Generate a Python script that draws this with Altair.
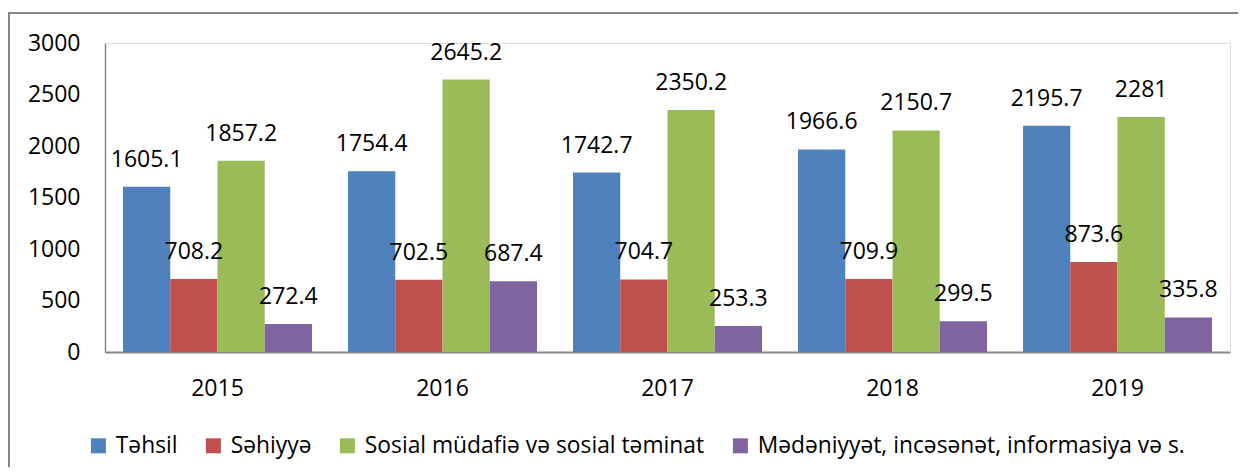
import altair as alt
import pandas as pd

years = ["2015", "2016", "2017", "2018", "2019"]
series = ["Təhsil", "Səhiyyə", "Sosial müdafiə və sosial təminat",
          "Mədəniyyət, incəsənət, informasiya və s."]
colors = ["#4F81BD", "#C0504D", "#9BBB59", "#8064A2"]
tehsil = [1605.1, 1754.4, 1742.7, 1966.6, 2195.7]
sehiyye = [708.2, 702.5, 704.7, 709.9, 873.6]
sosial = [1857.2, 2645.2, 2350.2, 2150.7, 2281]
medeniyyet = [272.4, 687.4, 253.3, 299.5, 335.8]
y_ticks = [0, 500, 1000, 1500, 2000, 2500, 3000]

rows = []
for s, vals in zip(series, [tehsil, sehiyye, sosial, medeniyyet]):
    for yr, v in zip(years, vals):
        rows.append({"year": yr, "series": s, "value": v, "label": f"{v:g}"})
df = pd.DataFrame(rows)

FONT = "Open Sans"
W, H = 1125, 309

x = alt.X("year:N", sort=years, title=None,
          scale=alt.Scale(paddingInner=0.16, paddingOuter=0.08),
          axis=alt.Axis(labelAngle=0, ticks=False, tickSize=0, labelPadding=25,
                        labelFontSize=23, labelFont=FONT, labelColor="#000",
                        domainColor="#868686", domainWidth=2))
xo = alt.XOffset("series:N", sort=series)
y = alt.Y("value:Q", title=None,
          scale=alt.Scale(domain=[0, 3000], nice=False),
          axis=alt.Axis(values=y_ticks, format="d", grid=False, ticks=False,
                        tickSize=0, labelPadding=25, labelFontSize=23,
                        labelFont=FONT, labelColor="#000",
                        domainColor="#868686", domainWidth=1.5))
color = alt.Color("series:N", sort=series,
                  scale=alt.Scale(domain=series, range=colors),
                  legend=alt.Legend(title=None, orient="none", direction="horizontal",
                                    legendX=-18, legendY=391,
                                    symbolType="square", symbolSize=225,
                                    symbolStrokeWidth=0, labelFontSize=22.8,
                                    labelFont=FONT, labelColor="#000",
                                    labelOffset=6, columnPadding=24,
                                    symbolOpacity=1, labelLimit=700))

base = alt.Chart(df)
bars = base.mark_bar(opacity=1).encode(x=x, xOffset=xo, y=y, color=color)
labels = base.mark_text(baseline="middle", align="center", dy=-27,
                        fontSize=23, font=FONT, color="#000").encode(
    x=x, xOffset=xo, y=y, text="label:N")

frame = alt.Chart(pd.DataFrame({"a": [0]}))
border_top = frame.mark_rect(fill="#868686", stroke=None, clip=False).encode(
    x=alt.value(-97), x2=alt.value(1133), y=alt.value(-31), y2=alt.value(-29))
border_left = frame.mark_rect(fill="#868686", stroke=None, clip=False).encode(
    x=alt.value(-97), x2=alt.value(-95), y=alt.value(-31), y2=alt.value(424))

chart = alt.layer(border_top, border_left, bars, labels).properties(
    width=W, height=H,
    autosize=alt.AutoSizeParams(type="none"),
    padding={"left": 97, "top": 35, "right": 8, "bottom": 115},
).configure_view(stroke=None).configure(background="white")

chart.save("out.html", embed_options={"renderer": "svg", "actions": False})
